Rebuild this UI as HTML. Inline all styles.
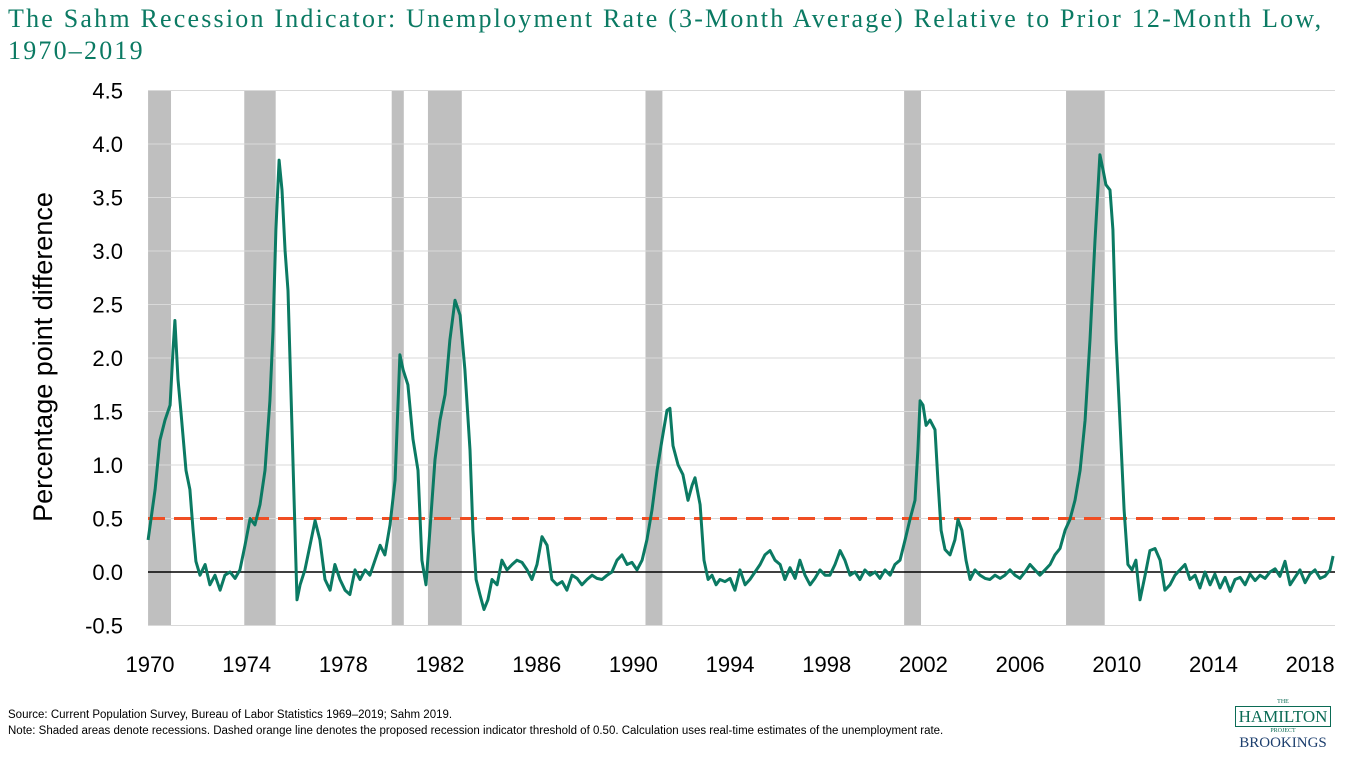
<!DOCTYPE html>
<html><head><meta charset="utf-8">
<style>
body{margin:0;background:#fff;width:1353px;height:759px;overflow:hidden;position:relative;font-family:"Liberation Sans",sans-serif}
#title{position:absolute;left:8px;top:3px;font-family:"Liberation Serif",serif;font-size:26px;letter-spacing:2.2px;line-height:32px;color:#0b7a63;white-space:nowrap}
#notes{position:absolute;left:8px;top:707px;font-size:11.5px;line-height:16px;color:#000}
#logo{position:absolute;left:1226px;top:699px;width:114px;text-align:center;font-family:"Liberation Serif",serif;color:#0b6b55}
</style></head><body>
<div id="title">The Sahm Recession Indicator: Unemployment Rate (3-Month Average) Relative to Prior 12-Month Low,<br>1970–2019</div>
<svg id="chart" width="1353" height="700" style="position:absolute;left:0;top:0"></svg>
<div id="notes">Source: Current Population Survey, Bureau of Labor Statistics 1969–2019; Sahm 2019.<br>Note: Shaded areas denote recessions. Dashed orange line denotes the proposed recession indicator threshold of 0.50. Calculation uses real-time estimates of the unemployment rate.</div>
<div id="logo">
<div style="font-size:6px;line-height:7px">THE</div>
<div style="border:1px solid #0b6b55;font-size:17px;line-height:19px;padding:0 3px;display:inline-block">HAMILTON</div>
<div style="font-size:6px;line-height:8px">PROJECT</div>
<div style="font-size:15px;line-height:16px;color:#1d3f6e">BROOKINGS</div>
</div>
<script>
const yTicks=[4.5,4.0,3.5,3.0,2.5,2.0,1.5,1.0,0.5,0.0,-0.5];
const xTicks=[1970,1974,1978,1982,1986,1990,1994,1998,2002,2006,2010,2014,2018];
const recStart=[1969.92,1973.9,1980.0,1981.5,1990.5,2001.2,2007.9];
const recEnd=[1970.87,1975.2,1980.5,1982.9,1991.2,2001.9,2009.5];
const threshold=0.5;
const years=[1969.92,1970.21,1970.41,1970.62,1970.83,1970.95,1971.03,1971.16,1971.28,1971.49,1971.65,1971.78,1971.90,1972.07,1972.28,1972.48,1972.69,1972.90,1973.10,1973.31,1973.52,1973.72,1973.93,1974.14,1974.34,1974.55,1974.76,1974.96,1975.09,1975.21,1975.34,1975.46,1975.59,1975.71,1975.83,1975.96,1976.08,1976.21,1976.41,1976.62,1976.83,1977.03,1977.24,1977.45,1977.65,1977.86,1978.07,1978.27,1978.48,1978.69,1978.90,1979.10,1979.31,1979.52,1979.72,1979.93,1980.14,1980.34,1980.47,1980.67,1980.88,1981.09,1981.25,1981.42,1981.58,1981.79,1982.00,1982.21,1982.41,1982.62,1982.83,1983.03,1983.24,1983.36,1983.49,1983.65,1983.82,1983.98,1984.15,1984.36,1984.56,1984.77,1984.98,1985.18,1985.39,1985.60,1985.80,1986.01,1986.22,1986.43,1986.63,1986.84,1987.05,1987.25,1987.46,1987.67,1987.87,1988.08,1988.29,1988.49,1988.70,1988.91,1989.11,1989.32,1989.53,1989.74,1989.94,1990.15,1990.36,1990.56,1990.77,1990.98,1991.18,1991.39,1991.51,1991.64,1991.85,1992.05,1992.26,1992.43,1992.55,1992.76,1992.92,1993.09,1993.25,1993.42,1993.58,1993.79,1994.00,1994.20,1994.41,1994.62,1994.82,1995.03,1995.24,1995.44,1995.65,1995.86,1996.07,1996.27,1996.48,1996.69,1996.89,1997.10,1997.31,1997.51,1997.72,1997.93,1998.13,1998.34,1998.55,1998.75,1998.96,1999.17,1999.37,1999.58,1999.79,2000.00,2000.20,2000.41,2000.62,2000.82,2001.03,2001.24,2001.44,2001.65,2001.77,2001.86,2001.98,2002.11,2002.27,2002.48,2002.60,2002.73,2002.89,2003.10,2003.30,2003.43,2003.59,2003.76,2003.93,2004.13,2004.34,2004.55,2004.75,2004.96,2005.17,2005.37,2005.58,2005.79,2005.99,2006.20,2006.41,2006.61,2006.82,2007.03,2007.24,2007.44,2007.65,2007.86,2008.06,2008.27,2008.48,2008.69,2008.89,2009.10,2009.30,2009.43,2009.55,2009.72,2009.84,2009.97,2010.13,2010.30,2010.46,2010.63,2010.79,2010.96,2011.17,2011.37,2011.58,2011.79,2011.99,2012.20,2012.41,2012.61,2012.82,2013.03,2013.24,2013.44,2013.65,2013.86,2014.06,2014.27,2014.48,2014.69,2014.89,2015.10,2015.31,2015.51,2015.72,2015.93,2016.13,2016.34,2016.55,2016.75,2016.96,2017.17,2017.37,2017.58,2017.79,2017.99,2018.20,2018.41,2018.61,2018.82,2018.95];
const values=[0.30,0.77,1.23,1.42,1.56,2.07,2.35,1.80,1.50,0.95,0.77,0.40,0.10,-0.03,0.07,-0.12,-0.03,-0.17,-0.03,0,-0.06,0.02,0.25,0.50,0.44,0.63,0.95,1.60,2.25,3.20,3.85,3.57,3.00,2.63,1.70,0.67,-0.26,-0.12,0.02,0.25,0.48,0.30,-0.07,-0.17,0.07,-0.07,-0.17,-0.21,0.02,-0.07,0.02,-0.03,0.11,0.25,0.16,0.44,0.86,2.03,1.89,1.75,1.24,0.95,0.11,-0.12,0.39,1.05,1.42,1.66,2.17,2.54,2.40,1.89,1.14,0.39,-0.07,-0.21,-0.35,-0.26,-0.07,-0.12,0.11,0.02,0.07,0.11,0.09,0.02,-0.07,0.07,0.33,0.25,-0.07,-0.12,-0.09,-0.17,-0.03,-0.06,-0.12,-0.07,-0.03,-0.06,-0.07,-0.03,0,0.11,0.16,0.07,0.09,0.02,0.11,0.30,0.58,0.95,1.23,1.51,1.53,1.18,1.00,0.91,0.67,0.81,0.88,0.63,0.11,-0.07,-0.03,-0.12,-0.07,-0.09,-0.06,-0.17,0.02,-0.12,-0.07,0,0.07,0.16,0.20,0.11,0.07,-0.07,0.04,-0.06,0.11,-0.03,-0.12,-0.06,0.02,-0.03,-0.03,0.07,0.20,0.11,-0.03,0,-0.07,0.02,-0.03,0,-0.06,0.02,-0.03,0.07,0.11,0.30,0.49,0.67,1.14,1.60,1.56,1.37,1.42,1.33,0.86,0.39,0.21,0.16,0.30,0.49,0.39,0.11,-0.07,0.02,-0.03,-0.06,-0.07,-0.03,-0.06,-0.03,0.02,-0.03,-0.06,0,0.07,0.02,-0.03,0.02,0.07,0.16,0.22,0.39,0.49,0.67,0.95,1.42,2.17,3.10,3.90,3.76,3.62,3.57,3.20,2.17,1.42,0.58,0.07,0.02,0.11,-0.26,-0.03,0.20,0.22,0.11,-0.17,-0.12,-0.03,0.02,0.07,-0.07,-0.03,-0.15,0,-0.12,-0.02,-0.15,-0.05,-0.18,-0.07,-0.05,-0.12,-0.02,-0.08,-0.03,-0.06,0.0,0.03,-0.04,0.10,-0.12,-0.05,0.02,-0.10,-0.02,0.02,-0.06,-0.04,0.02,0.15];

const NS='http://www.w3.org/2000/svg';
const svg=document.getElementById('chart');
const L=148,R=1335;
function X(yr){return 150+(yr-1970)*24.17;}
function Y(v){return 572-v*107;}
function mk(t,a){const e=document.createElementNS(NS,t);for(const k in a)e.setAttribute(k,a[k]);svg.appendChild(e);return e;}

recStart.forEach((s,i)=>{
  const r=mk('rect',{x:X(s),y:Y(4.5),width:X(recEnd[i])-X(s),height:Y(-0.5)-Y(4.5),fill:'#bfbfbf'});
  
  
});
yTicks.forEach(v=>{
  const g=mk('line',{x1:L,x2:R,y1:Y(v),y2:Y(v),stroke:v===0?'#000':'#d9d9d9','stroke-width':v===0?1.5:1});
  
  
  const t=mk('text',{x:123,y:Y(v)+8,'text-anchor':'end','font-size':22,fill:'#000','font-family':'Liberation Sans, sans-serif'});
  t.textContent=v.toFixed(1);
  
  
});
xTicks.forEach(yr=>{
  const t=mk('text',{x:X(yr),y:672,'text-anchor':'middle','font-size':22,fill:'#000','font-family':'Liberation Sans, sans-serif'});
  t.textContent=yr;
  
  
});
const th=mk('line',{x1:L,x2:R,y1:Y(threshold),y2:Y(threshold),stroke:'#f04e23','stroke-width':3,'stroke-dasharray':'17,9'});


const pts=years.map((y,i)=>X(y).toFixed(1)+','+Y(values[i]).toFixed(1)).join(' ');
const pl=mk('polyline',{points:pts,fill:'none',stroke:'#0b7a63','stroke-width':3,'stroke-linejoin':'round'});


const yl=mk('text',{x:0,y:0,transform:'translate(52,357) rotate(-90)','text-anchor':'middle','font-size':27,fill:'#000','font-family':'Liberation Sans, sans-serif'});
yl.textContent='Percentage point difference';


</script>
</body></html>
